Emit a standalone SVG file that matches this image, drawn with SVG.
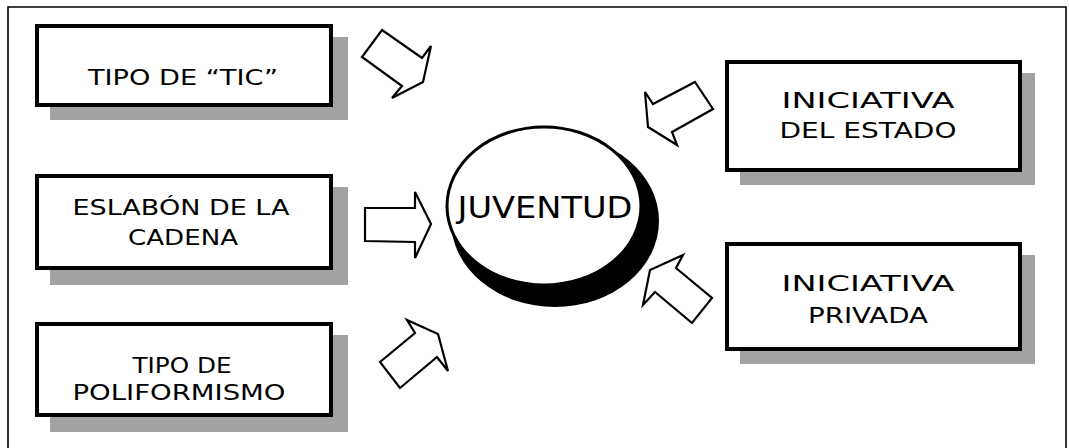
<svg xmlns="http://www.w3.org/2000/svg" width="1069" height="448" viewBox="0 0 1069 448">
<style>
.frame{fill:none;stroke:#000;stroke-width:1.6}
.box{fill:#fff;stroke:#000;stroke-width:4}
.shadow{fill:#a2a2a2}
.lbl{font-family:"DejaVu Sans",sans-serif;font-size:22px;fill:#000;text-anchor:middle}
.big{font-size:31px}
.arrow{fill:#fff;stroke:#000;stroke-width:2.2;stroke-linejoin:miter}
</style>
<rect width="1069" height="448" fill="#fff"/>
<path class="frame" d="M8,448 V7 H1066 V448"/>

<g id="tipo-tic">
<rect class="shadow" x="50" y="37" width="298" height="83"/>
<rect class="box" x="37" y="26" width="294" height="79"/>
<text class="lbl" x="183" y="85" textLength="190" lengthAdjust="spacingAndGlyphs">TIPO DE “TIC”</text>
</g>

<g id="eslabon">
<rect class="shadow" x="50" y="187" width="298" height="98"/>
<rect class="box" x="37" y="176" width="294" height="92"/>
<text class="lbl" x="181" y="215" textLength="217" lengthAdjust="spacingAndGlyphs">ESLABÓN DE LA</text>
<text class="lbl" x="183" y="245" textLength="110" lengthAdjust="spacingAndGlyphs">CADENA</text>
</g>

<g id="poliformismo">
<rect class="shadow" x="50" y="335" width="298" height="97"/>
<rect class="box" x="37" y="324" width="294" height="91"/>
<text class="lbl" x="182" y="373" textLength="99" lengthAdjust="spacingAndGlyphs">TIPO DE</text>
<text class="lbl" x="179" y="400" textLength="213" lengthAdjust="spacingAndGlyphs">POLIFORMISMO</text>
</g>

<g id="estado">
<rect class="shadow" x="740" y="73" width="295" height="112"/>
<rect class="box" x="727" y="62" width="293" height="108"/>
<text class="lbl" x="868" y="108" textLength="173" lengthAdjust="spacingAndGlyphs">INICIATIVA</text>
<text class="lbl" x="868" y="138" textLength="177" lengthAdjust="spacingAndGlyphs">DEL ESTADO</text>
</g>

<g id="privada">
<rect class="shadow" x="740" y="255" width="295" height="109"/>
<rect class="box" x="727" y="244" width="293" height="105"/>
<text class="lbl" x="868" y="291" textLength="173" lengthAdjust="spacingAndGlyphs">INICIATIVA</text>
<text class="lbl" x="868" y="323" textLength="120" lengthAdjust="spacingAndGlyphs">PRIVADA</text>
</g>

<g id="juventud">
<ellipse cx="555" cy="221" rx="104" ry="86" fill="#000"/>
<ellipse cx="544" cy="206" rx="97" ry="79" fill="#fff" stroke="#000" stroke-width="3"/>
<text class="lbl big" x="545" y="218" textLength="175" lengthAdjust="spacingAndGlyphs">JUVENTUD</text>
</g>

<g id="connectors">
<polygon class="arrow" points="382,30 422,58 431,46 423,82 392,98 402,86 362,57"/>
<polygon class="arrow" points="365,208 415,208 415,192 431,224 415,258 415,242 365,241"/>
<polygon class="arrow" points="380,362 415,333 407,320 438,334 448,371 437,357 400,388"/>
<polygon class="arrow" points="695,82 713,109 672,132 677,145 648,127 645,92 653,104"/>
<polygon class="arrow" points="683,255 676,268 712,298 692,323 655,292 643,305 650,270"/>
</g>
</svg>
